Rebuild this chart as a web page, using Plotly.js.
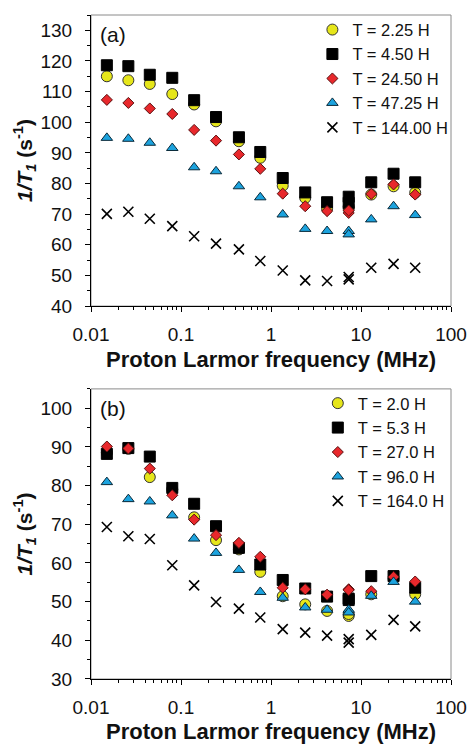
<!DOCTYPE html>
<html>
<head>
<meta charset="utf-8">
<script src="https://cdn.plot.ly/plotly-3.0.1.min.js"></script>
<style>html,body{margin:0;padding:0;background:#fff;}#chart{width:470px;height:744px;}</style>
</head>
<body>
<div id="chart"></div>
<script>
// Proton Larmor frequency (MHz)
const freq = [0.015, 0.026, 0.045, 0.08, 0.14, 0.245, 0.44, 0.76, 1.35, 2.4, 4.2, 7.3, 7.3, 13, 23, 40];

// Panel (a)
const namesA = ['T = 2.25 H', 'T = 4.50 H', 'T = 24.50 H', 'T = 47.25 H', 'T = 144.00 H'];
const a_T2_25  = [115.0, 113.7, 112.5, 109.2, 105.8, 100.3, 93.8, 88.4, 79.3, 75.3, 71.8, 71.8, 72.5, 76.4, 79.1, 77.0];
const a_T4_50  = [118.6, 118.3, 115.5, 114.5, 107.2, 101.7, 95.1, 90.3, 81.8, 77.1, 73.9, 75.7, 73.7, 80.4, 83.2, 80.4];
const a_T24_50 = [107.3, 106.3, 104.5, 102.7, 97.5, 94.0, 89.5, 84.8, 76.7, 72.6, 71.0, 70.4, 71.2, 76.6, 79.7, 76.4];
const a_T47_25 = [94.9, 94.6, 93.3, 91.6, 85.3, 84.0, 79.1, 75.5, 69.9, 65.2, 64.5, 64.5, 63.4, 68.3, 72.6, 69.7];
const a_T144   = [70.1, 70.8, 68.5, 66.1, 62.8, 60.4, 58.5, 54.7, 51.6, 48.4, 48.2, 49.5, 48.7, 52.5, 53.8, 52.5];

// Panel (b)
const namesB = ['T = 2.0 H', 'T = 5.3 H', 'T = 27.0 H', 'T = 96.0 H', 'T = 164.0 H'];
const b_T2_0   = [88.5, 89.5, 82.2, 79.0, 71.8, 65.9, 63.5, 57.7, 51.4, 49.3, 47.6, 46.3, 46.8, 51.9, 56.0, 51.9];
const b_T5_3   = [88.2, 89.7, 87.5, 79.4, 75.3, 69.5, 63.9, 59.6, 55.6, 53.4, 51.3, 50.4, 50.8, 56.6, 56.6, 53.6];
const b_T27    = [90.1, 89.6, 84.4, 77.5, 71.2, 67.2, 65.2, 61.6, 53.6, 53.2, 51.8, 53.2, 53.0, 52.7, 56.4, 55.2];
const b_T96    = [80.9, 76.5, 75.9, 72.3, 66.3, 62.6, 58.2, 52.5, 51.0, 48.5, 47.9, 47.9, 47.2, 51.5, 55.1, 50.0];
const b_T164   = [69.3, 66.9, 66.2, 59.4, 54.2, 49.9, 48.2, 45.9, 42.9, 42.0, 41.2, 40.3, 39.4, 41.4, 45.3, 43.6];

const xTicks = [0.01, 0.1, 1, 10, 100];
const xTickText = ['0.01', '0.1', '1', '10', '100'];

const FONT = 'Liberation Sans, Arial, sans-serif';
const styles = [
  {symbol: 'circle', size: 11, color: '#e6e61a', line: {color: '#333', width: 1}},
  {symbol: 'square', size: 11, color: '#000000', line: {color: '#000', width: 1}},
  {symbol: 'diamond', size: 8.5, color: '#e8282c', line: {color: '#5a1010', width: 1}},
  {symbol: 'triangle-up', size: 10, color: '#1ca3de', line: {color: '#0a2a3a', width: 1}},
  {symbol: 'x-thin', size: 10, color: '#000000', line: {color: '#000', width: 1.6}}
];

const seriesA = [a_T2_25, a_T4_50, a_T24_50, a_T47_25, a_T144];
const seriesB = [b_T2_0, b_T5_3, b_T27, b_T96, b_T164];

const traces = [];
seriesA.forEach((ys, i) => {
  traces.push({x: freq, y: ys, type: 'scatter', mode: 'markers', name: namesA[i],
    xaxis: 'x', yaxis: 'y', legend: 'legend', marker: styles[i]});
});
seriesB.forEach((ys, i) => {
  traces.push({x: freq, y: ys, type: 'scatter', mode: 'markers', name: namesB[i],
    xaxis: 'x2', yaxis: 'y2', legend: 'legend2', marker: styles[i]});
});

const xCommon = {
  type: 'log', range: [-2, 2], tickvals: xTicks, ticktext: xTickText,
  showgrid: false, zeroline: false, showline: true, linecolor: '#000', linewidth: 1,
  ticks: 'outside', ticklen: 5, tickcolor: '#000', ticklabelstandoff: 6,
  minor: {ticks: 'outside', ticklen: 3, tickcolor: '#000', dtick: 'D1', showgrid: false},
  tickfont: {family: FONT, size: 19, color: '#111'},
  title: {text: '<b>Proton Larmor frequency (MHz)</b>', font: {family: FONT, size: 22, color: '#111'}, standoff: 7}
};
const yCommon = {
  dtick: 10, showgrid: false, zeroline: false, showline: true, linecolor: '#000', linewidth: 1,
  ticks: 'outside', ticklen: 5, tickcolor: '#000', ticklabelstandoff: 9,
  minor: {ticks: 'outside', ticklen: 3, tickcolor: '#000', dtick: 5, showgrid: false},
  tickfont: {family: FONT, size: 19, color: '#111'},
  title: {text: '<b><i>1/T</i><sub><i>1</i></sub> (s<sup>-1</sup>)</b>', font: {family: FONT, size: 21, color: '#111'}, standoff: 2}
};

const layout = {
  width: 470, height: 744,
  margin: {l: 91, r: 19, t: 13, b: 65},
  paper_bgcolor: '#fff', plot_bgcolor: '#fff',
  showlegend: true,
  xaxis: Object.assign({}, xCommon, {anchor: 'y', domain: [0, 1]}),
  yaxis: Object.assign({}, yCommon, {anchor: 'x', domain: [0.5616, 1], range: [40, 135], tick0: 40}),
  xaxis2: Object.assign({}, xCommon, {anchor: 'y2', domain: [0, 1]}),
  yaxis2: Object.assign({}, yCommon, {anchor: 'x2', domain: [0, 0.4369], range: [30, 105], tick0: 30}),
  legend: {x: 0.615, y: 1.004, xanchor: 'left', yanchor: 'top', bgcolor: 'rgba(0,0,0,0)',
    font: {family: FONT, size: 16.5, color: '#111'}, itemwidth: 30, tracegroupgap: 0},
  legend2: {x: 0.63, y: 0.4414, xanchor: 'left', yanchor: 'top', bgcolor: 'rgba(0,0,0,0)',
    font: {family: FONT, size: 16.5, color: '#111'}, itemwidth: 30, tracegroupgap: 0},
  shapes: [
    {type: 'rect', xref: 'x domain', yref: 'y domain', x0: 0, x1: 1, y0: 0, y1: 1, line: {color: '#8a8a8a', width: 1}, layer: 'below'},
    {type: 'rect', xref: 'x2 domain', yref: 'y2 domain', x0: 0, x1: 1, y0: 0, y1: 1, line: {color: '#8a8a8a', width: 1}, layer: 'below'}
  ],
  annotations: [
    {text: '(a)', xref: 'x domain', yref: 'y domain', x: 0.061, y: 0.932, showarrow: false, xanchor: 'center', yanchor: 'middle', font: {family: FONT, size: 21, color: '#111'}},
    {text: '(b)', xref: 'x2 domain', yref: 'y2 domain', x: 0.061, y: 0.931, showarrow: false, xanchor: 'center', yanchor: 'middle', font: {family: FONT, size: 21, color: '#111'}}
  ]
};

Plotly.newPlot('chart', traces, layout, {displayModeBar: false, staticPlot: true});
</script>
</body>
</html>
